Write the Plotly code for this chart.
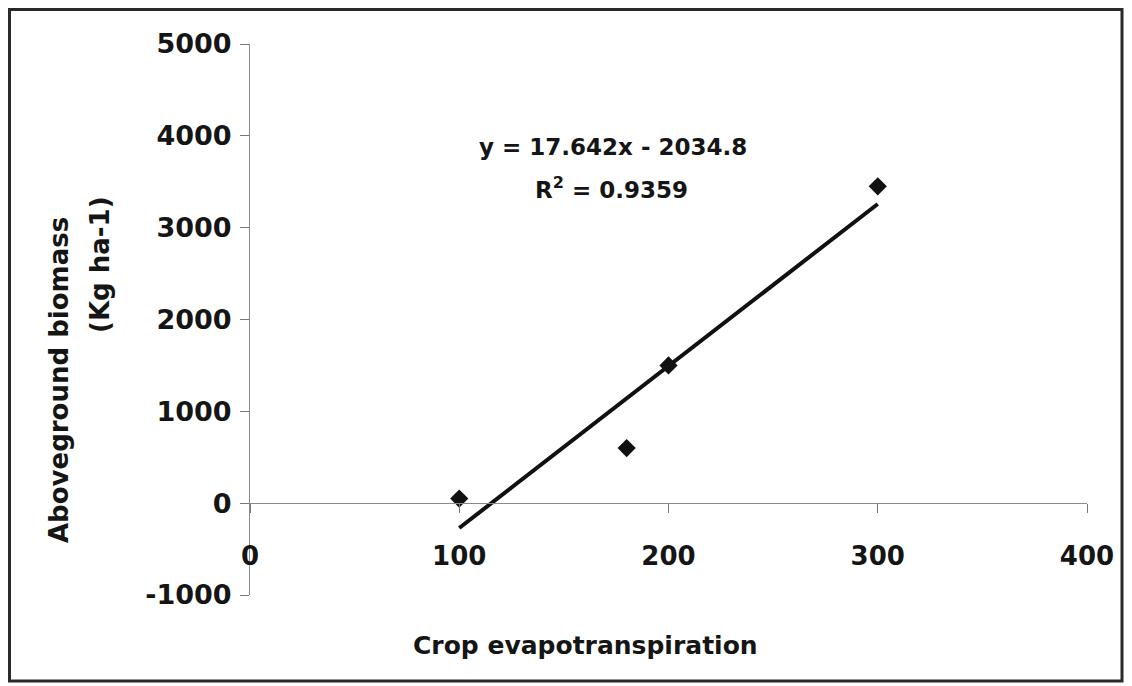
import plotly.graph_objects as go

# Data
et_values = [100, 180, 200, 300]          # Crop evapotranspiration
biomass_values = [50, 600, 1500, 3450]    # Aboveground biomass (Kg ha-1)

# Linear trendline reported on the chart
slope = 17.642
intercept = -2034.8
r_squared = 0.9359

x_ticks = [0, 100, 200, 300, 400]
y_ticks = [-1000, 0, 1000, 2000, 3000, 4000, 5000]

# page body has an 8px margin: figure is placed at (8, 8) in the window
OFF = 8
W, H = 1132 - OFF, 686 - OFF
L, T = 250 - OFF, 44 - OFF
R = W - (1087 - OFF)
B = H - (595 - OFF)
pw, ph = W - L - R, H - T - B


def px(x):
    """reference window pixel x -> paper fraction"""
    return (x - OFF - L) / pw


def py(y):
    """reference window pixel y -> paper fraction"""
    return (H - B - (y - OFF)) / ph


FONT = "DejaVu Sans"
TXT = "#151515"

trend_x = [min(et_values), max(et_values)]
trend_y = [slope * v + intercept for v in trend_x]

fig = go.Figure()
fig.add_trace(go.Scatter(
    x=trend_x, y=trend_y, mode="lines",
    line=dict(color="#111111", width=4), showlegend=False, hoverinfo="skip"))
fig.add_trace(go.Scatter(
    x=et_values, y=biomass_values, mode="markers",
    marker=dict(symbol="diamond", size=14, color="#111111"),
    showlegend=False))

fig.update_layout(
    width=W, height=H,
    margin=dict(l=L, r=R, t=T, b=B, pad=0),
    paper_bgcolor="white", plot_bgcolor="white",
    showlegend=False,
    xaxis=dict(
        range=[0, 400], tickvals=x_ticks, ticktext=[str(v) for v in x_ticks],
        showgrid=False, zeroline=False,
        showline=True, linecolor="#8a8a8a", linewidth=1,
        ticks="outside", ticklen=9, tickcolor="#777777", tickwidth=1,
        anchor="free", position=1 / 6,
        ticklabelstandoff=21,
        tickfont=dict(family=FONT, size=26, color=TXT, weight="bold"),
    ),
    yaxis=dict(
        range=[-1000, 5000], tickvals=y_ticks, ticktext=[str(v) for v in y_ticks],
        showgrid=False, zeroline=False,
        showline=True, linecolor="#8a8a8a", linewidth=1,
        ticks="outside", ticklen=9, tickcolor="#777777", tickwidth=1,
        ticklabelstandoff=3,
        tickfont=dict(family=FONT, size=27, color=TXT, weight="bold"),
    ),
)

ann_font = dict(family=FONT, color=TXT, weight="bold")
fig.add_annotation(
    x=px(613), y=py(147), xref="paper", yref="paper", showarrow=False,
    text=f"y = {slope}x - {abs(intercept)}",
    font=dict(size=23, **ann_font), xanchor="center", yanchor="middle")
fig.add_annotation(
    x=px(611), y=py(188), xref="paper", yref="paper", showarrow=False,
    text=f"R<sup>2</sup> = {r_squared}",
    font=dict(size=23, **ann_font), xanchor="center", yanchor="middle")
fig.add_annotation(
    x=px(585), y=py(645), xref="paper", yref="paper", showarrow=False,
    text="Crop evapotranspiration",
    font=dict(size=25, **ann_font), xanchor="center", yanchor="middle")
fig.add_annotation(
    x=px(59), y=py(380), xref="paper", yref="paper", showarrow=False,
    text="Aboveground biomass", textangle=-90,
    font=dict(size=26, **ann_font), xanchor="center", yanchor="middle")
fig.add_annotation(
    x=px(100), y=py(265), xref="paper", yref="paper", showarrow=False,
    text="(Kg ha-1)", textangle=-90,
    font=dict(size=26, **ann_font), xanchor="center", yanchor="middle")

# outer frame of the chart
fig.add_shape(
    type="rect", xref="paper", yref="paper",
    x0=px(9.5), x1=px(1122), y0=py(681), y1=py(9.5),
    line=dict(color="#2a2a2a", width=3), fillcolor="rgba(0,0,0,0)", layer="below")

fig.write_html("out.html")
